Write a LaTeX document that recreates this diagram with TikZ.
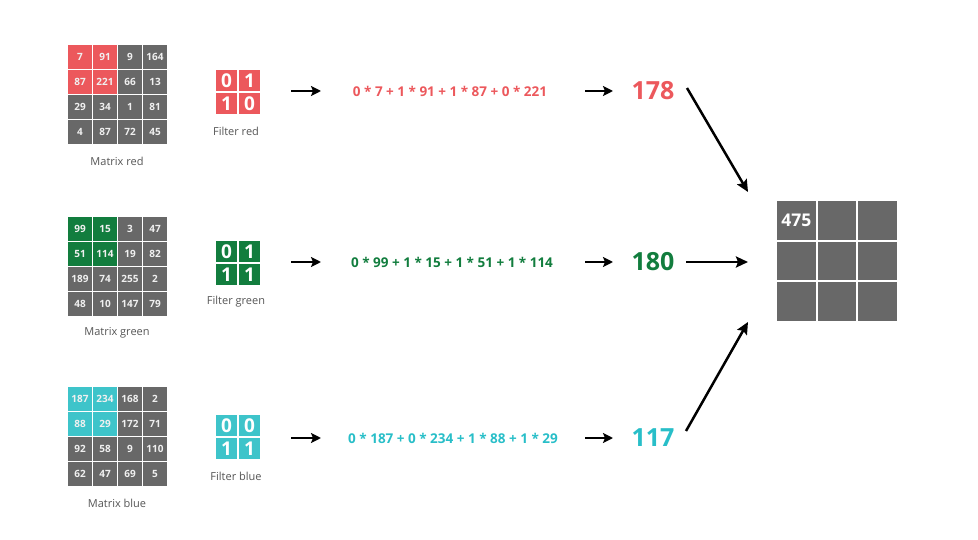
\documentclass[tikz,border=0pt]{standalone}
\usepackage{fontspec}
\setmainfont{Open Sans}
\usetikzlibrary{arrows.meta}
\usetikzlibrary{positioning}
\definecolor{fred}{RGB}{236,88,92}
\definecolor{fgreen}{RGB}{18,125,62}
\definecolor{fblue}{RGB}{62,196,202}
\definecolor{tblue}{RGB}{40,190,200}
\definecolor{cellgray}{RGB}{104,104,104}
\definecolor{labelgray}{RGB}{85,85,85}
\tikzset{
    arrow/.style={-{Stealth[length=10pt,width=10pt,inset=2pt]}, line width=2.5pt},
    bigarrow/.style={-{Stealth[length=12pt,width=11pt,inset=2pt]}, line width=2.5pt},
    cell/.style = {
      minimum size=24pt,
      inner sep=0pt,
      rectangle,
      fill=cellgray,
      text=white!94!black,
      font=\bfseries\fontsize{10}{10}\selectfont
    },
    fcell/.style = {
      minimum size=21pt,
      inner sep=0pt,
      rectangle,
      text=white,
      font=\bfseries\fontsize{19}{19}\selectfont
    },
    outcell/.style = {
      minimum size=38.5pt,
      inner sep=0pt,
      rectangle,
      fill=cellgray,
      text=white,
      font=\bfseries\fontsize{17.5}{18}\selectfont
    },
    namelabel/.style = {
      text=labelgray,
      font=\fontsize{11}{12}\selectfont
    },
    formula/.style = {
      font=\bfseries\fontsize{13.5}{14}\selectfont
    },
    result/.style = {
      font=\bfseries\fontsize{25}{26}\selectfont
    },
}

\begin{document}
\begin{tikzpicture}[x=1pt,y=-1pt]
      \useasboundingbox (0,0) rectangle (978,540);

      % input matrices
      \foreach \m/\col/\yc/\vals in {
          red/fred/57/{7,91,9,164,87,221,66,13,29,34,1,81,4,87,72,45},
          green/fgreen/229/{99,15,3,47,51,114,19,82,189,74,255,2,48,10,147,79},
          blue/fblue/399/{187,234,168,2,88,29,172,71,92,58,9,110,62,47,69,5}}{
        \foreach \v [count=\i from 0] in \vals {
          \pgfmathtruncatemacro{\r}{div(\i,4)}
          \pgfmathtruncatemacro{\c}{mod(\i,4)}
          \pgfmathtruncatemacro{\hl}{and(\r<2,\c<2)}
          \ifnum\hl=1 \def\fc{\col}\else\def\fc{cellgray}\fi
          \node[cell, fill=\fc] (m\m-\r-\c) at (80+25*\c, \yc+25*\r) {\v};
        }
        \node[namelabel] (ml\m) at (117, \yc+104) {Matrix \m};
      }

      % filters
      \foreach \m/\col/\yc/\vals in {
          red/fred/92/{0,1,1,0},
          green/fgreen/263/{0,1,1,1},
          blue/fblue/437/{0,0,1,1}}{
        \foreach \v [count=\i from 0] in \vals {
          \pgfmathtruncatemacro{\r}{div(\i,2)}
          \pgfmathtruncatemacro{\c}{mod(\i,2)}
          \node[fcell, fill=\col] (f\m-\r-\c) at (226.5+23*\c, \yc-11.5+23*\r) {\v};
        }
        \node[namelabel] (fl\m) at (236, \yc+39) {Filter \m};
      }

      % products and results
      \node[formula, text=fred] (sumred) at (450, 91) {0 * 7 + 1 * 91 + 1 * 87 + 0 * 221};
      \node[formula, text=fgreen] (sumgreen) at (452, 262) {0 * 99 + 1 * 15 + 1 * 51 + 1 * 114};
      \node[formula, text=tblue] (sumblue) at (453, 438) {0 * 187 + 0 * 234 + 1 * 88 + 1 * 29};

      \node[result, text=fred] (resred) at (653, 91) {178};
      \node[result, text=fgreen] (resgreen) at (653, 262) {180};
      \node[result, text=tblue] (resblue) at (653, 438) {117};

      \foreach \m/\y in {red/91, green/262, blue/438}{
        \coordinate (a\m) at (291, \y);
        \coordinate (b\m) at (585, \y);
        \draw[arrow] (a\m) -- ++(30,0);
        \draw[arrow] (b\m) -- ++(28,0);
      }

      % output matrix
      \foreach \r in {0,1,2}{
        \foreach \c in {0,1,2}{
          \node[outcell] (o-\r-\c) at (796.3+40.5*\c, 220.3+40.5*\r) {};
        }
      }
      \node[outcell, fill=none] at (o-0-0) {475};

      \coordinate (sred) at (687, 88);
      \coordinate (sgreen) at (686, 262);
      \coordinate (sblue) at (686, 431);
      \coordinate (ired) at (748, 192);
      \coordinate (igreen) at (748, 262);
      \coordinate (iblue) at (748, 322);
      \draw[bigarrow] (sred) -- (ired);
      \draw[bigarrow] (sgreen) -- (igreen);
      \draw[bigarrow] (sblue) -- (iblue);
    \end{tikzpicture}
\end{document}
